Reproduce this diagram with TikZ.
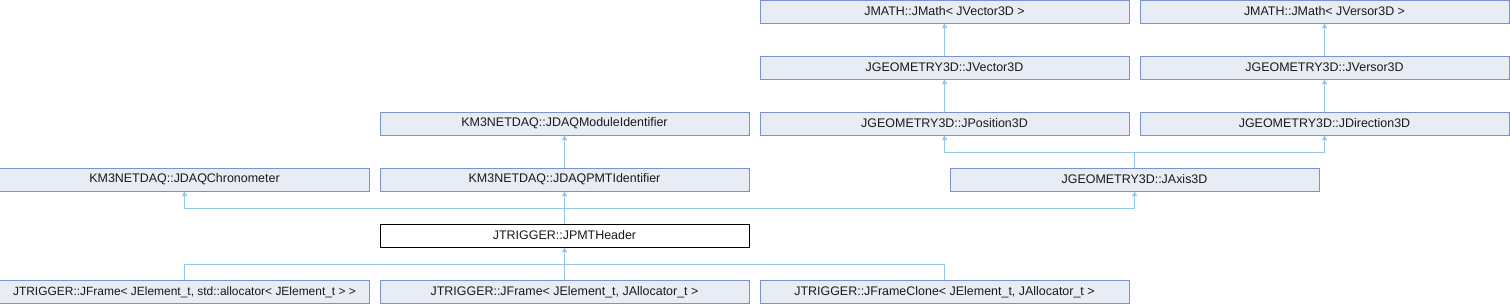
\documentclass[tikz,border=0pt]{standalone}
\usepackage{fontspec}
\setmainfont{Liberation Sans}
\usetikzlibrary{arrows.meta}
\definecolor{boxfill}{HTML}{E8ECF5}
\definecolor{boxdraw}{HTML}{7B93CC}
\definecolor{edgecol}{HTML}{96C8E8}
\definecolor{txt}{HTML}{1A1A1A}
\tikzset{
  cls/.style={rectangle, draw=boxdraw, fill=boxfill, line width=1bp, minimum width=369bp, minimum height=23bp, inner sep=0pt, text=txt, font=\fontsize{12.5}{14}\selectfont},
  cur/.style={cls, draw=black, fill=white},
  edge/.style={draw=edgecol, line width=1bp},
  arr/.style={edge, -{Triangle[length=4.5bp,width=5bp]}}
}
\begin{document}
\begin{tikzpicture}[x=1bp,y=-1bp]
\useasboundingbox (0,0) rectangle (1510,304);
\node[cls] (mv) at (944.5,11.5) {JMATH::JMath<  JVector3D  >};
\node[cls] (mr) at (1324.5,11.5) {JMATH::JMath<  JVersor3D  >};
\node[cls] (v3) at (944.5,67.5) {JGEOMETRY3D::JVector3D};
\node[cls] (r3) at (1324.5,67.5) {JGEOMETRY3D::JVersor3D};
\node[cls] (mid) at (564.5,123.5) {KM3NETDAQ::JDAQModuleIdentifier};
\node[cls] (p3) at (944.5,123.5) {JGEOMETRY3D::JPosition3D};
\node[cls] (d3) at (1324.5,123.5) {JGEOMETRY3D::JDirection3D};
\node[cls] (chr) at (184.5,179.5) {KM3NETDAQ::JDAQChronometer};
\node[cls] (pmt) at (564.5,179.5) {KM3NETDAQ::JDAQPMTIdentifier};
\node[cls] (ax) at (1134.5,179.5) {JGEOMETRY3D::JAxis3D};
\node[cur] (hdr) at (564.5,235.5) {JTRIGGER::JPMTHeader};
\node[cls, font=\fontsize{12}{14}\selectfont] (f1) at (184.5,292) {JTRIGGER::JFrame<  JElement\_t,  std::allocator<  JElement\_t  >  >};
\node[cls] (f2) at (564.5,292) {JTRIGGER::JFrame<  JElement\_t,  JAllocator\_t  >};
\node[cls] (f3) at (944.5,292) {JTRIGGER::JFrameClone<  JElement\_t,  JAllocator\_t  >};
\coordinate (j1) at (1134.5,152.5);
\coordinate (j2) at (564.5,208);
\coordinate (j3) at (564.5,264);
\draw[arr] (v3.north) -- (mv.south);
\draw[arr] (r3.north) -- (mr.south);
\draw[arr] (p3.north) -- (v3.south);
\draw[arr] (d3.north) -- (r3.south);
\draw[arr] (pmt.north) -- (mid.south);
\draw[edge] (ax.north) -- (j1);
\draw[arr] (j1) -| (p3.south);
\draw[arr] (j1) -| (d3.south);
\draw[arr] (hdr.north) -- (pmt.south);
\draw[arr] (j2) -| (chr.south);
\draw[arr] (j2) -| (ax.south);
\draw[arr] (f2.north) -- (hdr.south);
\draw[edge] (f1.north) |- (j3);
\draw[edge] (f3.north) |- (j3);
\end{tikzpicture}
\end{document}
